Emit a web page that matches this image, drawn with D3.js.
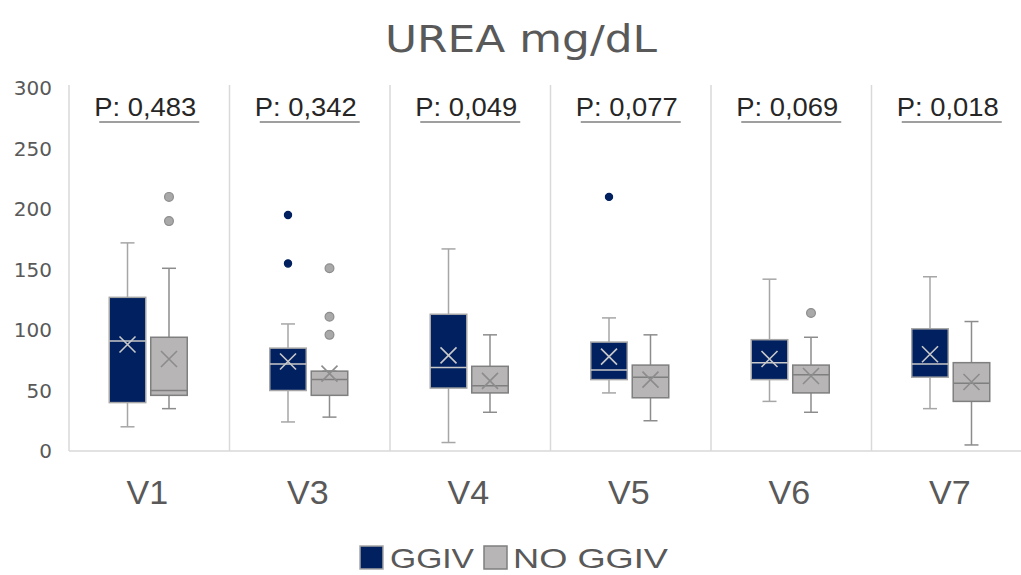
<!DOCTYPE html>
<html>
<head>
<meta charset="utf-8">
<script src="https://cdn.jsdelivr.net/npm/d3@7/dist/d3.min.js"></script>
<style>
  html, body { margin: 0; padding: 0; background: #ffffff; }
  svg { display: block; }
</style>
</head>
<body>
<svg id="chart" width="1021" height="575"></svg>
<script>
// Visits and groups
const visits = ["V1", "V3", "V4", "V5", "V6", "V7"];
const groups = ["GGIV", "NO GGIV"];
const pLabels = ["P: 0,483", "P: 0,342", "P: 0,049", "P: 0,077", "P: 0,069", "P: 0,018"];
const yTicks = [0, 50, 100, 150, 200, 250, 300];

// GGIV box statistics per visit (mg/dL)
const ggivMin    = [20, 24, 7, 48, 41, 35];
const ggivQ1     = [40, 50, 52, 59, 59, 61];
const ggivMedian = [91, 72, 69, 67, 73, 72];
const ggivQ3     = [127, 85, 113, 90, 92, 101];
const ggivMax    = [172, 105, 167, 110, 142, 144];
const ggivMean   = [88, 74, 79, 78, 76, 80];
const ggivOutliers = [[], [195, 155], [], [210], [], []];

// NO GGIV box statistics per visit (mg/dL)
const noMin    = [35, 28, 32, 25, 32, 5];
const noQ1     = [46, 46, 48, 44, 48, 41];
const noMedian = [50, 59, 54, 61, 63, 56];
const noQ3     = [94, 66, 70, 71, 71, 73];
const noMax    = [151, 66, 96, 96, 94, 107];
const noMean   = [76, 64, 58, 59, 62, 57];
const noOutliers = [[210, 190], [151, 111, 96], [], [], [114], []];

const series = [
  { name: groups[0], min: ggivMin, q1: ggivQ1, med: ggivMedian, q3: ggivQ3, max: ggivMax, mean: ggivMean, out: ggivOutliers },
  { name: groups[1], min: noMin, q1: noQ1, med: noMedian, q3: noQ3, max: noMax, mean: noMean, out: noOutliers }
];

const style = {
  "GGIV":    { fill: "#002060", stroke: "#a6a6a6", median: "#c9c9c9", mean: "#c9c9c9", whisker: "#a6a6a6", dot: "#002060", dotStroke: "#002060", r: 3.6 },
  "NO GGIV": { fill: "#b7b5b5", stroke: "#7f7f7f", median: "#7f7f7f", mean: "#8c8c8c", whisker: "#8c8c8c", dot: "#a9a9a9", dotStroke: "#8c8c8c", r: 4.4 }
};

const svg = d3.select("#chart");
const textGray = "#595959";

const plotLeft = 69, step = 160.5;
const x = d3.scaleBand().domain(visits).range([plotLeft, plotLeft + step * visits.length]).padding(0);
const xs = d3.scaleBand().domain(groups).range([-40, 38]).paddingInner(0.12);
const y = d3.scaleLinear().domain([0, 300]).range([451, 88]);

// Title
svg.append("text")
  .attr("x", 521).attr("y", 52)
  .attr("text-anchor", "middle")
  .attr("font-family", "DejaVu Sans, sans-serif")
  .attr("font-size", 37)
  .attr("fill", textGray)
  .attr("textLength", 272)
  .attr("lengthAdjust", "spacingAndGlyphs")
  .text("UREA mg/dL");

// Frame: left edge, category separators, baseline
const grid = svg.append("g").attr("stroke", "#d9d9d9").attr("stroke-width", 1.5);
const sepX = visits.map(v => x(v));
grid.selectAll("line.sep").data(sepX).join("line")
  .attr("class", "sep")
  .attr("x1", d => d).attr("x2", d => d)
  .attr("y1", y(300) - 3).attr("y2", y(0));
grid.append("line")
  .attr("x1", plotLeft).attr("x2", 1021)
  .attr("y1", y(0)).attr("y2", y(0));

// Y tick labels
svg.append("g").selectAll("text").data(yTicks).join("text")
  .attr("x", 52).attr("y", d => y(d))
  .attr("dy", "0.36em")
  .attr("text-anchor", "end")
  .attr("font-family", "DejaVu Sans, sans-serif")
  .attr("font-size", 20)
  .attr("fill", textGray)
  .text(d => d);

// X category labels
svg.append("g").selectAll("text").data(visits).join("text")
  .attr("x", d => x(d) + x.bandwidth() / 2 - 2)
  .attr("y", 504)
  .attr("text-anchor", "middle")
  .attr("font-family", "Liberation Sans, Arial, sans-serif")
  .attr("font-size", 34)
  .attr("fill", textGray)
  .text(d => d);

// P-value annotations with underline
const pg = svg.append("g");
visits.forEach((v, i) => {
  const cx = x(v) + x.bandwidth() / 2;
  pg.append("text")
    .attr("x", cx - 4).attr("y", 116)
    .attr("text-anchor", "middle")
    .attr("font-family", "Liberation Sans, Arial, sans-serif")
    .attr("font-size", 26)
    .attr("fill", "#262626")
    .attr("textLength", 102)
    .attr("lengthAdjust", "spacingAndGlyphs")
    .text(pLabels[i]);
  pg.append("line")
    .attr("x1", cx - 50).attr("x2", cx + 50)
    .attr("y1", 122).attr("y2", 122)
    .attr("stroke", "#7f7f7f").attr("stroke-width", 1.5);
});

// Box plots
const boxW = xs.bandwidth();
const capW = 14;
series.forEach(s => {
  const st = style[s.name];
  const g = svg.append("g");
  visits.forEach((v, i) => {
    const left = x(v) + x.bandwidth() / 2 + xs(s.name);
    const cx = left + boxW / 2;
    // whiskers
    g.append("line").attr("x1", cx).attr("x2", cx)
      .attr("y1", y(s.max[i])).attr("y2", y(s.q3[i]))
      .attr("stroke", st.whisker).attr("stroke-width", 1.5);
    g.append("line").attr("x1", cx).attr("x2", cx)
      .attr("y1", y(s.q1[i])).attr("y2", y(s.min[i]))
      .attr("stroke", st.whisker).attr("stroke-width", 1.5);
    [s.max[i], s.min[i]].forEach(val => {
      g.append("line").attr("x1", cx - capW / 2).attr("x2", cx + capW / 2)
        .attr("y1", y(val)).attr("y2", y(val))
        .attr("stroke", st.whisker).attr("stroke-width", 1.5);
    });
    // box
    g.append("rect")
      .attr("x", left).attr("width", boxW)
      .attr("y", y(s.q3[i])).attr("height", y(s.q1[i]) - y(s.q3[i]))
      .attr("fill", st.fill).attr("stroke", st.stroke).attr("stroke-width", 1.5);
    // median
    g.append("line").attr("x1", left).attr("x2", left + boxW)
      .attr("y1", y(s.med[i])).attr("y2", y(s.med[i]))
      .attr("stroke", st.median).attr("stroke-width", 1.5);
    // mean marker
    const my = y(s.mean[i]);
    g.append("path")
      .attr("d", `M${cx - 8},${my - 8}L${cx + 8},${my + 8}M${cx - 8},${my + 8}L${cx + 8},${my - 8}`)
      .attr("stroke", st.mean).attr("stroke-width", 1.6).attr("fill", "none");
    // outliers
    s.out[i].forEach(val => {
      g.append("circle").attr("cx", cx).attr("cy", y(val)).attr("r", st.r)
        .attr("fill", st.dot).attr("stroke", st.dotStroke).attr("stroke-width", 1.2);
    });
  });
});

// Legend
const legend = svg.append("g");
const legendItems = [
  { name: groups[0], sx: 360, tx: 390, w: 84 },
  { name: groups[1], sx: 484, tx: 513, w: 155 }
];
legendItems.forEach(it => {
  const st = style[it.name];
  legend.append("rect")
    .attr("x", it.sx).attr("y", 546).attr("width", 23).attr("height", 23)
    .attr("fill", st.fill).attr("stroke", st.stroke).attr("stroke-width", 1.5);
  legend.append("text")
    .attr("x", it.tx).attr("y", 568)
    .attr("font-family", "Liberation Sans, Arial, sans-serif")
    .attr("font-size", 28)
    .attr("fill", textGray)
    .attr("textLength", it.w)
    .attr("lengthAdjust", "spacingAndGlyphs")
    .text(it.name);
});
</script>
</body>
</html>
